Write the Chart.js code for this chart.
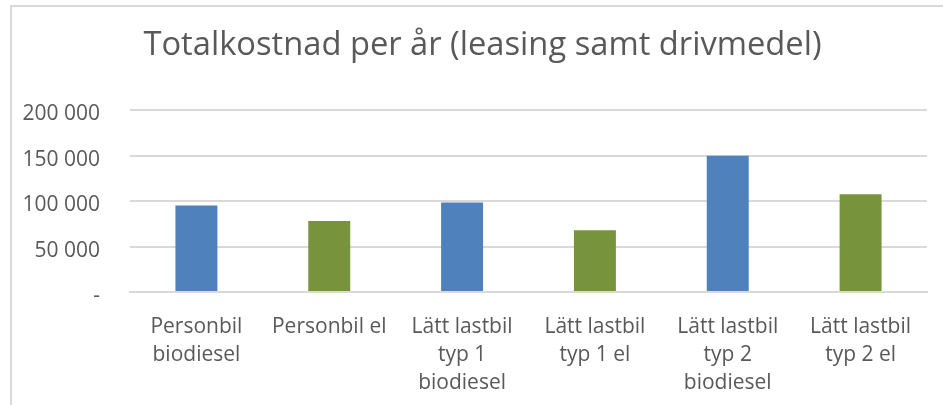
<!DOCTYPE html>
<html>
<head>
<meta charset="utf-8">
<script src="https://cdn.jsdelivr.net/npm/chart.js@4"></script>
<style>
  html, body { margin: 0; padding: 0; background: #fff; overflow: hidden; }
  #frame {
    position: absolute; left: 10px; top: 5px; width: 960px; height: 420px;
    border: 2px solid #d9d9d9; box-sizing: border-box;
  }
  #chart { position: absolute; left: 0; top: 0; }
</style>
</head>
<body>
<div id="frame"></div>
<canvas id="chart" width="943" height="405"></canvas>
<script>
// Data
const categories = [
  ['Personbil', 'biodiesel'],
  ['Personbil el'],
  ['Lätt lastbil', 'typ 1', 'biodiesel'],
  ['Lätt lastbil', 'typ 1 el'],
  ['Lätt lastbil', 'typ 2', 'biodiesel'],
  ['Lätt lastbil', 'typ 2 el'],
];
const totalCost = [95300, 78000, 98600, 68000, 150000, 107600];
const barColors = ['#4f81bd', '#77933c', '#4f81bd', '#77933c', '#4f81bd', '#77933c'];
const yTicks = [0, 50000, 100000, 150000, 200000];

const textColor = '#595959';
const fontFamily = '"Open Sans", sans-serif';

// Swedish style thousands separator, zero shown as a dash
function formatTick(value) {
  if (value === 0) return '-';
  return String(value).replace(/\B(?=(\d{3})+(?!\d))/g, ' ');
}

// the title is centred on the outer frame, not the canvas, so nudge its box
const titleShift = {
  id: 'titleShift',
  afterLayout(chart) {
    if (chart.titleBlock) chart.titleBlock.left += 38;
  },
};

new Chart(document.getElementById('chart'), {
  type: 'bar',
  data: {
    labels: categories,
    datasets: [
      {
        label: 'Totalkostnad',
        data: totalCost,
        backgroundColor: barColors,
        borderWidth: 0,
        barPercentage: 0.316,
        categoryPercentage: 1,
      },
    ],
  },
  options: {
    responsive: false,
    animation: false,
    devicePixelRatio: 1,
    layout: { padding: { left: 0, right: 16, top: 0, bottom: 0 } },
    plugins: {
      legend: { display: false },
      tooltip: { enabled: false },
      title: {
        display: true,
        text: 'Totalkostnad per år (leasing samt drivmedel)',
        color: textColor,
        font: { family: fontFamily, size: 32.7, weight: 'normal', lineHeight: 1.2 },
        padding: { top: 26, bottom: 45 },
      },
    },
    scales: {
      x: {
        grid: { display: false, drawTicks: false },
        border: { display: true, color: '#d9d9d9', width: 2 },
        ticks: {
          color: textColor,
          font: { family: fontFamily, size: 21, lineHeight: 1.33 },
          maxRotation: 0,
          autoSkip: false,
          padding: 21,
        },
        afterFit: (axis) => { axis.height = 113; },
      },
      y: {
        min: 0,
        max: 200000,
        afterBuildTicks: (axis) => { axis.ticks = yTicks.map((v) => ({ value: v })); },
        grid: { color: '#d9d9d9', lineWidth: 2, drawTicks: false },
        border: { display: false },
        ticks: {
          color: textColor,
          font: { family: fontFamily, size: 21 },
          padding: 30,
          labelOffset: 4,
          callback: (v) => formatTick(v),
        },
        afterFit: (axis) => { axis.width = 130; },
      },
    },
  },
  plugins: [titleShift],
});
</script>
</body>
</html>
